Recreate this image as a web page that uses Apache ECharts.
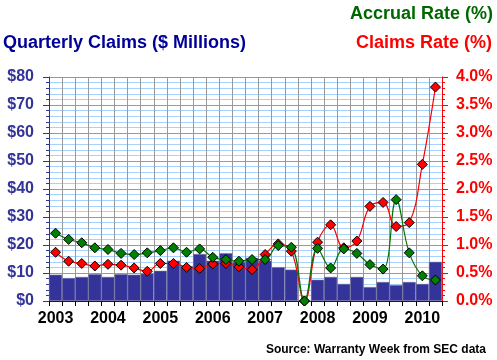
<!DOCTYPE html>
<html><head><meta charset="utf-8">
<script src="https://cdn.jsdelivr.net/npm/echarts@6/dist/echarts.min.js"></script>
<style>html,body{margin:0;padding:0;background:#fff}#c{width:497px;height:360px}</style>
</head><body><div id="c"></div>
<script>
var quarters = ['2003Q1','2003Q2','2003Q3','2003Q4','2004Q1','2004Q2','2004Q3','2004Q4','2005Q1','2005Q2','2005Q3','2005Q4','2006Q1','2006Q2','2006Q3','2006Q4','2007Q1','2007Q2','2007Q3','2007Q4','2008Q1','2008Q2','2008Q3','2008Q4','2009Q1','2009Q2','2009Q3','2009Q4','2010Q1','2010Q2'];
var claims = [9.4,8.2,8.6,9.6,8.6,9.6,9.4,9.8,10.8,14.4,12.5,16.8,14.4,17.1,13.9,15.4,14.4,12.1,11.2,0,7.6,8.6,6.1,8.6,5.0,6.8,5.7,6.8,6.1,14.0];
var claimsRate = [0.87,0.71,0.67,0.625,0.655,0.64,0.59,0.53,0.67,0.67,0.60,0.58,0.66,0.67,0.61,0.56,0.83,1.02,0.89,0,1.05,1.36,0.95,1.07,1.69,1.76,1.33,1.40,2.44,3.82];
var accrualRate = [1.21,1.10,1.04,0.95,0.92,0.85,0.83,0.86,0.90,0.95,0.87,0.93,0.78,0.74,0.71,0.74,0.74,0.99,0.96,0,0.94,0.59,0.93,0.85,0.65,0.57,1.81,0.86,0.45,0.375];

var chart = echarts.init(document.getElementById('c'), null, {renderer:'canvas'});
var F = 'Arial, "Liberation Sans", sans-serif';
chart.setOption({
  animation: false,
  backgroundColor: '#fff',
  title: [
    {text:'Accrual Rate (%)', right: 4, top: 5, padding: 0, textStyle:{color:'#006600', fontSize:18, fontWeight:'bold', fontFamily:F}},
    {text:'Claims Rate (%)', right: 5, top: 34, padding: 0, textStyle:{color:'#ff0000', fontSize:18, fontWeight:'bold', fontFamily:F}},
    {text:'Quarterly Claims ($ Millions)', left: 3, top: 34, padding: 0, textStyle:{color:'#000099', fontSize:18, fontWeight:'bold', fontFamily:F}},
    {text:'Source: Warranty Week from SEC data', right: 11, top: 344, padding: 0, textStyle:{color:'#000', fontSize:12, fontWeight:'bold', fontFamily:F}}
  ],
  grid: {left: 49, right: 55, top: 77, bottom: 59, containLabel: false},
  xAxis: {
    type: 'category', data: quarters, boundaryGap: true,
    axisLine: {show: true, lineStyle: {color: '#000066', width: 1}},
    axisTick: {show: true, interval: 0, length: 5, lineStyle: {color: '#000'}},
    axisLabel: {interval: 0, margin: 10, color: '#000', fontSize: 16, fontWeight: 'bold', fontFamily: F,
      formatter: function(v, i){ return i % 4 === 0 ? v.slice(0,4) : ''; }},
    splitLine: {show: true, interval: 0, lineStyle: {color: '#999999', width: 1}}
  },
  yAxis: [
    {type: 'value', min: 0, max: 80, interval: 10, position: 'left',
      axisLine: {show: true, lineStyle: {color: '#333399', width: 1}},
      axisTick: {show: true, length: 6, lineStyle: {color: '#333399'}},
      minorTick: {show: true, splitNumber: 5, length: 3, lineStyle: {color: '#333399'}},
      axisLabel: {margin: 15, color: '#333399', fontSize: 16, fontWeight: 'bold', fontFamily: F, formatter: function(v){return '$' + v;}},
      splitLine: {show: true, lineStyle: {color: '#999999', width: 1}},
      minorSplitLine: {show: true, lineStyle: {color: '#a6d2ff', width: 1}}
    },
    {type: 'value', min: 0, max: 4, interval: 0.5, position: 'right',
      axisLine: {show: true, lineStyle: {color: '#ff0000', width: 1}},
      axisTick: {show: true, length: 6, lineStyle: {color: '#ff0000'}},
      minorTick: {show: true, splitNumber: 5, length: 3, lineStyle: {color: '#ff0000'}},
      axisLabel: {margin: 14, color: '#ff0000', fontSize: 16, fontWeight: 'bold', fontFamily: F, formatter: function(v){return v.toFixed(1) + '%';}},
      splitLine: {show: false}
    }
  ],
  series: [
    {type: 'bar', data: claims, yAxisIndex: 0, barCategoryGap: '0%', barWidth: '100%',
      itemStyle: {color: '#333399', borderColor: '#8888aa', borderWidth: 0.5}},
    {type: 'line', data: claimsRate, yAxisIndex: 1, smooth: 0.4, symbol: 'diamond', symbolSize: 10,
      lineStyle: {color: '#ff0000', width: 1.2},
      itemStyle: {color: '#ff0000', borderColor: '#000', borderWidth: 1}},
    {type: 'line', data: accrualRate, yAxisIndex: 1, smooth: 0.4, symbol: 'diamond', symbolSize: 10,
      lineStyle: {color: '#007700', width: 1.2},
      itemStyle: {color: '#008000', borderColor: '#000', borderWidth: 1}}
  ]
});
</script></body></html>
